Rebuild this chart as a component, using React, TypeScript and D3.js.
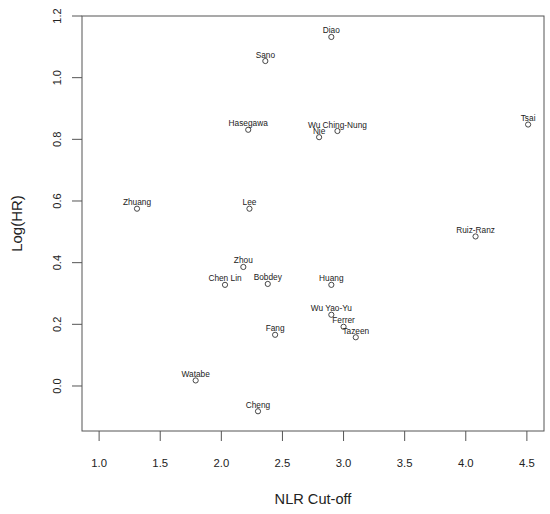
import * as d3 from 'd3';

// Study data
const studies = ['Diao', 'Sano', 'Hasegawa', 'Wu Ching-Nung', 'Nie', 'Tsai', 'Zhuang', 'Lee', 'Ruiz-Ranz', 'Zhou', 'Chen Lin', 'Bobdey', 'Huang', 'Wu Yao-Yu', 'Ferrer', 'Fang', 'Tazeen', 'Watabe', 'Cheng'];
const nlrCutoff = [2.9, 2.36, 2.22, 2.95, 2.8, 4.51, 1.31, 2.23, 4.08, 2.18, 2.03, 2.38, 2.9, 2.9, 3.0, 2.44, 3.1, 1.79, 2.3];
const logHR = [1.132, 1.054, 0.831, 0.827, 0.807, 0.848, 0.575, 0.575, 0.485, 0.386, 0.328, 0.331, 0.328, 0.231, 0.192, 0.166, 0.158, 0.018, -0.082];

const xTicks = [1.0, 1.5, 2.0, 2.5, 3.0, 3.5, 4.0, 4.5];
const yTicks = [0.0, 0.2, 0.4, 0.6, 0.8, 1.0, 1.2];

export default function App() {
  const width = 550;
  const height = 514;
  const left = 82, right = 544, top = 16, bottom = 431;

  const x = d3.scaleLinear().domain([0.86, 4.64]).range([left, right]);
  const y = d3.scaleLinear().domain([-0.146, 1.2]).range([bottom, top]);

  const font = 'Liberation Sans, Arial, sans-serif';
  const ink = '#222';
  const line = '#555';

  return (
    <svg width={width} height={height} style={{ position: 'absolute', left: 0, top: 0, background: '#fff' }} fontFamily={font}>
      {/* plot box */}
      <rect x={left} y={top} width={right - left} height={bottom - top} fill="none" stroke={line} strokeWidth={1} />

      {/* x axis */}
      {xTicks.map((t) => (
        <g key={'x' + t}>
          <line x1={x(t)} x2={x(t)} y1={bottom} y2={bottom + 10} stroke={line} />
          <text x={x(t)} y={467} fontSize={11.3} textAnchor="middle" fill={ink}>{d3.format('.1f')(t)}</text>
        </g>
      ))}
      <text x={(left + right) / 2} y={504} fontSize={14.6} textAnchor="middle" fill={ink}>NLR Cut-off</text>

      {/* y axis */}
      {yTicks.map((t) => (
        <g key={'y' + t}>
          <line x1={left - 10} x2={left} y1={y(t)} y2={y(t)} stroke={line} />
          <text transform={`translate(57,${y(t)}) rotate(-90)`} dy="0.35em" fontSize={11} textAnchor="middle" fill={ink}>{d3.format('.1f')(t)}</text>
        </g>
      ))}
      <text transform={`translate(17,${(top + bottom) / 2}) rotate(-90)`} dy="0.35em" fontSize={15} textAnchor="middle" fill={ink}>Log(HR)</text>

      {/* points and labels */}
      {studies.map((name, i) => (
        <g key={name}>
          <circle cx={x(nlrCutoff[i])} cy={y(logHR[i])} r={2.6} fill="none" stroke="#333" strokeWidth={0.9} />
          <text x={x(nlrCutoff[i])} y={y(logHR[i]) - 3.5} fontSize={8.3} textAnchor="middle" fill={ink}>{name}</text>
        </g>
      ))}
    </svg>
  );
}
